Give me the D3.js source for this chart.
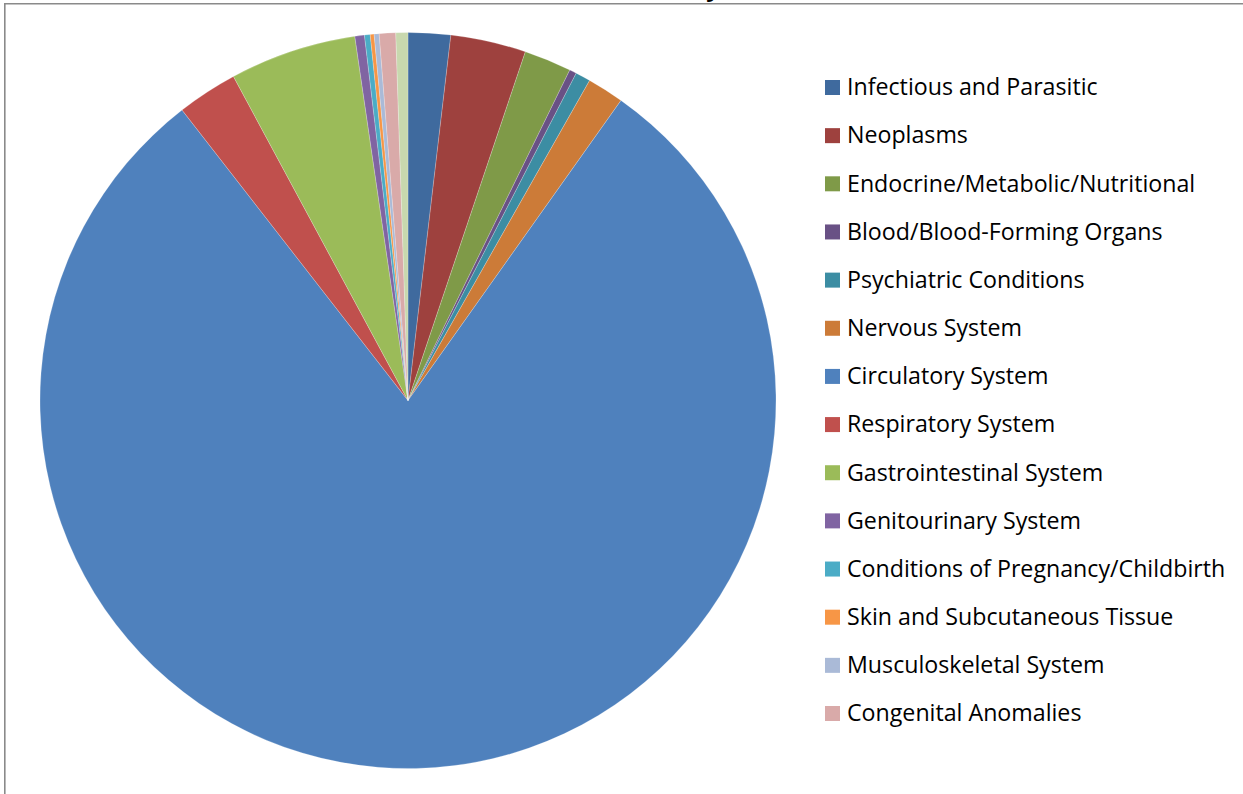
<!DOCTYPE html>
<html><head><meta charset="utf-8">
<script src="https://cdn.jsdelivr.net/npm/d3@7"></script>
<style>html,body{margin:0;padding:0;background:#fff;overflow:hidden}</style>
</head><body>
<svg id="c" width="1243" height="794"></svg>
<script>
const categories = ["Infectious and Parasitic","Neoplasms","Endocrine/Metabolic/Nutritional","Blood/Blood-Forming Organs","Psychiatric Conditions","Nervous System","Circulatory System","Respiratory System","Gastrointestinal System","Genitourinary System","Conditions of Pregnancy/Childbirth","Skin and Subcutaneous Tissue","Musculoskeletal System","Congenital Anomalies","Perinatal Conditions"];
const values = [1.86,3.31,2.08,0.31,0.66,1.61,79.71,2.66,5.56,0.42,0.25,0.17,0.22,0.72,0.53];
const colors = ["#3F6A9E","#9E413E","#7F9A48","#695185","#3C8DA3","#CC7B38","#4F81BD","#C0504D","#9BBB59","#8064A2","#4BACC6","#F79646","#AABAD7","#D9AAA9","#C8D8AE"];
const legendCount = 14;
const titleText = "Mortality";

const svg = d3.select("#c");
// title (cut off at the top edge in the reference; only the descender shows)
svg.append("text").attr("x",720).attr("y",-4).attr("text-anchor","end")
  .attr("font-family","'Open Sans', sans-serif").attr("font-size",24).attr("font-weight","bold")
  .attr("fill","#000").text(titleText);
// frame
svg.append("line").attr("x1",4).attr("x2",1243).attr("y1",3.8).attr("y2",3.8).attr("stroke","#8a8a8a").attr("stroke-width",1.6);
svg.append("line").attr("x1",4.8).attr("x2",4.8).attr("y1",3).attr("y2",794).attr("stroke","#8a8a8a").attr("stroke-width",1.6);

const data = categories.map((c,i)=>({name:c,value:values[i],color:colors[i]}));
const pie = d3.pie().sort(null).value(d=>d.value).startAngle(0).endAngle(2*Math.PI);
const arc = d3.arc().innerRadius(0).outerRadius(368);
const g = svg.append("g").attr("transform","translate(408,400.5)");
g.selectAll("path").data(pie(data)).join("path")
  .attr("d",arc).attr("fill",d=>d.data.color)
  .attr("stroke","#ffffff").attr("stroke-opacity",0.35).attr("stroke-width",0.6);

const y = d3.scalePoint().domain(categories.slice(0,legendCount)).range([87.5,713.5]);
const lg = svg.append("g");
const items = lg.selectAll("g").data(data.slice(0,legendCount)).join("g")
  .attr("transform",d=>`translate(825,${y(d.name)})`);
items.append("rect").attr("x",0).attr("y",-7.5).attr("width",15).attr("height",15).attr("fill",d=>d.color);
items.append("text").attr("x",22).attr("y",7.8)
  .attr("font-family","'Open Sans', sans-serif").attr("font-size",23.2).attr("fill","#000")
  .text(d=>d.name);
</script>
</body></html>
